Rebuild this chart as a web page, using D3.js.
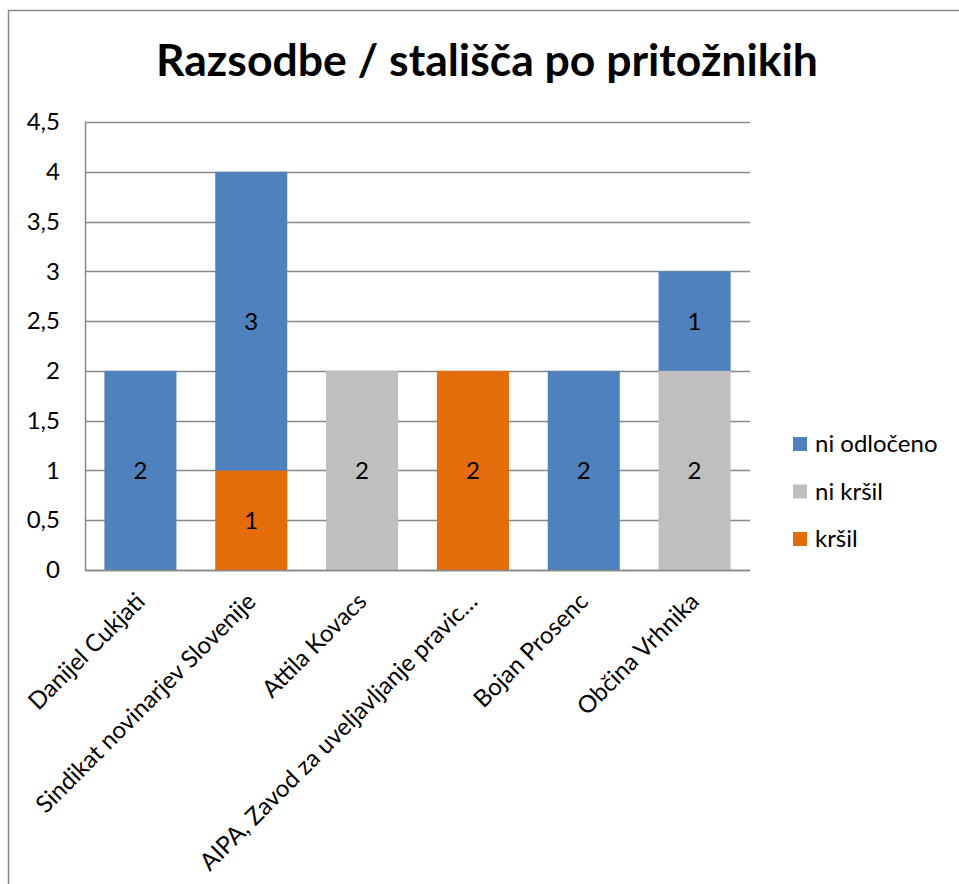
<!DOCTYPE html>
<html>
<head>
<meta charset="utf-8">
<script src="https://cdn.jsdelivr.net/npm/d3@7"></script>
<style>
    body { margin: 0; background: #fff; }
    text { font-family: Lato, "Liberation Sans", sans-serif; fill: #000; }
</style>
</head>
<body>
<div id="plot"></div>
<script>
let width = 959;
let height = 884;

// data
let categories = ["Danijel Cukjati", "Sindikat novinarjev Slovenije", "Attila Kovacs",
    "AIPA, Zavod za uveljavljanje pravic\u2026", "Bojan Prosenc", "Občina Vrhnika"];
let krsil = [0, 1, 0, 2, 0, 0];
let niKrsil = [0, 0, 2, 0, 0, 2];
let niOdloceno = [2, 3, 0, 0, 2, 1];
let yTicks = [0, 0.5, 1, 1.5, 2, 2.5, 3, 3.5, 4, 4.5];

// stacking order from the bottom
let series = [
    { name: "kršil", values: krsil, color: "#E46C0A" },
    { name: "ni kršil", values: niKrsil, color: "#BFBFBF" },
    { name: "ni odločeno", values: niOdloceno, color: "#4F81BD" }
];

let plot = { left: 85, right: 750, top: 122, bottom: 570 };
let fontSize = "24px";

let svg = d3.select("#plot")
    .append("svg")
    .attr("width", width)
    .attr("height", height);

// outer frame of the chart
svg.append("rect")
    .attr("x", 8.5)
    .attr("y", 10.5)
    .attr("width", width)
    .attr("height", height)
    .style("fill", "none")
    .style("stroke", "#878787")
    .style("stroke-width", 1.5);

svg.append("text")
    .attr("x", 487)
    .attr("y", 76)
    .style("text-anchor", "middle")
    .style("font-size", "44.5px")
    .style("font-weight", "bold")
    .text("Razsodbe / stališča po pritožnikih");

let xScale = d3.scaleBand()
    .domain(categories)
    .range([plot.left, plot.right])
    .paddingInner(0.35)
    .paddingOuter(0.175);

let yScale = d3.scaleLinear()
    .domain([0, 4.5])
    .range([plot.bottom, plot.top]);

let comma = d3.formatLocale({ decimal: ",", thousands: ".", grouping: [3], currency: ["", ""] });

// gridlines
svg.append("g")
    .selectAll("line")
    .data(yTicks)
    .join("line")
    .attr("x1", plot.left)
    .attr("x2", plot.right)
    .attr("y1", d => Math.round(yScale(d)) + 0.5)
    .attr("y2", d => Math.round(yScale(d)) + 0.5)
    .style("stroke", "#888")
    .style("stroke-width", 1.5);

svg.append("line")
    .attr("x1", plot.left + 0.5)
    .attr("x2", plot.left + 0.5)
    .attr("y1", plot.top)
    .attr("y2", plot.bottom)
    .style("stroke", "#888")
    .style("stroke-width", 1.5);

let yAxis = d3.axisLeft(yScale)
    .tickValues(yTicks)
    .tickSize(0)
    .tickPadding(25)
    .tickFormat(comma.format("~g"));

svg.append("g")
    .attr("transform", "translate(" + plot.left + ",0)")
    .call(yAxis)
    .call(g => g.select(".domain").remove())
    .selectAll("text")
    .style("font-size", fontSize)
    .style("font-family", "Lato, sans-serif");

// stacked bars
let stackData = categories.map((c, i) => {
    let row = { category: c };
    series.forEach(s => { row[s.name] = s.values[i]; });
    return row;
});

let stacked = d3.stack().keys(series.map(s => s.name))(stackData);

stacked.forEach((layer, li) => {
    let g = svg.append("g");
    layer.forEach(d => {
        let value = d[1] - d[0];
        if (value <= 0) return;
        let x = xScale(d.data.category);
        g.append("rect")
            .attr("x", x)
            .attr("y", yScale(d[1]))
            .attr("width", xScale.bandwidth())
            .attr("height", yScale(d[0]) - yScale(d[1]))
            .style("fill", series[li].color);

        g.append("text")
            .attr("x", x + xScale.bandwidth() / 2)
            .attr("y", yScale((d[0] + d[1]) / 2))
            .attr("dy", "0.35em")
            .style("text-anchor", "middle")
            .style("font-size", fontSize)
            .text(value);
    });
});

// x axis line
svg.append("line")
    .attr("x1", plot.left)
    .attr("x2", plot.right)
    .attr("y1", plot.bottom + 0.5)
    .attr("y2", plot.bottom + 0.5)
    .style("stroke", "#888")
    .style("stroke-width", 1.5);

// category labels
categories.forEach(c => {
    let cx = xScale(c) + xScale.bandwidth() / 2;
    let cy = plot.bottom + 27;
    svg.append("text")
        .attr("transform", "translate(" + cx + "," + cy + ") rotate(-45)")
        .attr("dy", "0.35em")
        .style("text-anchor", "end")
        .style("font-size", fontSize)
        .text(c);
});

// legend, reversed like the stack
let legend = svg.append("g");
series.slice().reverse().forEach((s, i) => {
    let ly = 437 + i * 47.5;
    legend.append("rect")
        .attr("x", 793)
        .attr("y", ly)
        .attr("width", 14)
        .attr("height", 14)
        .style("fill", s.color);
    legend.append("text")
        .attr("x", 815)
        .attr("y", ly + 7)
        .attr("dy", "0.35em")
        .style("font-size", fontSize)
        .text(s.name);
});
</script>
</body>
</html>
